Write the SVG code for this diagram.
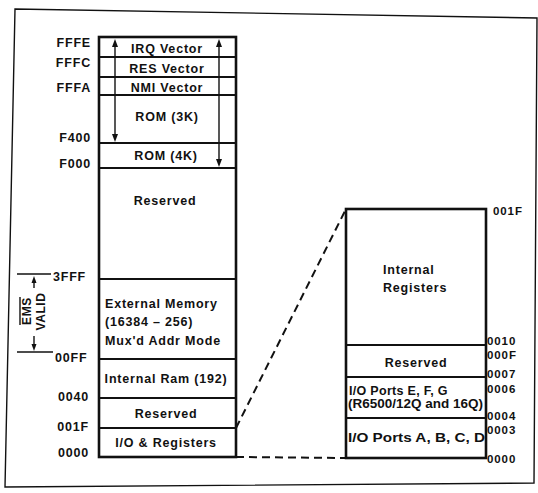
<svg xmlns="http://www.w3.org/2000/svg" width="538" height="493" viewBox="0 0 538 493">
<style>
text{font-family:"Liberation Sans",Arial,Helvetica,sans-serif;font-weight:bold;font-size:12.5px;letter-spacing:0.8px;fill:#111}
.c{text-anchor:middle}
.e{text-anchor:end}
.r{font-size:11.5px;letter-spacing:0.9px}
.box{fill:none;stroke:#111;stroke-width:2.6}
.div{stroke:#111;stroke-width:1.8}
.thin{stroke:#111;stroke-width:1.4;fill:none}
.dash{stroke:#111;stroke-width:2;fill:none;stroke-dasharray:8 5}
.ah{fill:#111}
</style>
<rect width="538" height="493" fill="#fff"/>
<polygon points="15,9 537,18 534,483 5,487" fill="none" stroke="#111" stroke-width="1.4"/>

<g id="memory-map">
  <rect class="box" x="99" y="37" width="137" height="420"/>
  <g id="irq-vector"><line class="div" x1="99" y1="57" x2="236" y2="57"/><text class="c" x="167" y="53">IRQ Vector</text></g>
  <g id="res-vector"><line class="div" x1="99" y1="77" x2="236" y2="77"/><text class="c" x="167" y="73">RES Vector</text></g>
  <g id="nmi-vector"><line class="div" x1="99" y1="95" x2="236" y2="95"/><text class="c" x="167" y="92">NMI Vector</text></g>
  <g id="rom-3k"><line class="div" x1="99" y1="143" x2="236" y2="143"/><text class="c" x="167" y="121">ROM (3K)</text></g>
  <g id="rom-4k"><line class="div" x1="99" y1="168" x2="236" y2="168"/><text class="c" x="166" y="160">ROM (4K)</text></g>
  <g id="reserved-high"><line class="div" x1="99" y1="279" x2="236" y2="279"/><text class="c" x="165" y="205">Reserved</text></g>
  <g id="external-memory"><line class="div" x1="99" y1="359" x2="236" y2="359"/>
    <text x="105" y="308">External Memory</text>
    <text x="105" y="326">(16384 – 256)</text>
    <text x="105" y="345">Mux'd Addr Mode</text></g>
  <g id="internal-ram"><line class="div" x1="99" y1="398" x2="236" y2="398"/><text class="c" x="166" y="383">Internal Ram (192)</text></g>
  <g id="reserved-low"><line class="div" x1="99" y1="428" x2="236" y2="428"/><text class="c" x="166" y="418">Reserved</text></g>
  <g id="io-registers"><text class="c" x="166" y="447">I/O &amp; Registers</text></g>
  <g id="range-arrows">
    <line class="thin" x1="115" y1="44" x2="115" y2="136"/>
    <polygon class="ah" points="115,39 112,47 118,47"/>
    <polygon class="ah" points="115,142 112,134 118,134"/>
    <line class="thin" x1="219" y1="44" x2="219" y2="161"/>
    <polygon class="ah" points="219,39 216,47 222,47"/>
    <polygon class="ah" points="219,167 216,159 222,159"/>
  </g>
</g>

<g id="address-labels-left">
  <text class="e" x="91" y="47">FFFE</text>
  <text class="e" x="91" y="67">FFFC</text>
  <text class="e" x="91" y="92">FFFA</text>
  <text class="e" x="91" y="142">F400</text>
  <text class="e" x="91" y="168">F000</text>
  <text x="53" y="281">3FFF</text>
  <text x="55" y="362">00FF</text>
  <text class="e" x="89" y="401">0040</text>
  <text class="e" x="89" y="431">001F</text>
  <text class="e" x="89" y="457">0000</text>
</g>

<g id="ems-valid">
  <line class="thin" x1="17" y1="274" x2="51" y2="274"/>
  <line class="thin" x1="17" y1="352" x2="53" y2="352"/>
  <line class="thin" x1="34" y1="281" x2="34" y2="288"/>
  <polygon class="ah" points="34,276 31.5,283 36.5,283"/>
  <line class="thin" x1="34" y1="336" x2="34" y2="345"/>
  <polygon class="ah" points="34,351 31.5,344 36.5,344"/>
  <text class="c" transform="translate(31,311) rotate(-90)" style="font-size:12px;letter-spacing:0.6px">EMS</text>
  <line class="thin" x1="20" y1="297" x2="20" y2="325"/>
  <text class="c" transform="translate(45,311.5) rotate(-90)" style="font-size:12px;letter-spacing:0.6px">VALID</text>
</g>

<g id="register-map">
  <rect class="box" x="346" y="209" width="140" height="249"/>
  <g id="internal-registers"><line class="div" x1="346" y1="345" x2="486" y2="345"/>
    <text x="383" y="274">Internal</text>
    <text x="383" y="292">Registers</text></g>
  <g id="reserved-reg"><line class="div" x1="346" y1="377" x2="486" y2="377"/><text class="c" x="416" y="367">Reserved</text></g>
  <g id="io-ports-efg"><line class="div" x1="346" y1="418" x2="486" y2="418"/>
    <text x="349" y="395" style="letter-spacing:0.3px">I/O Ports E, F, G</text>
    <text x="348" y="408" textLength="135" lengthAdjust="spacingAndGlyphs" style="letter-spacing:0">(R6500/12Q and 16Q)</text></g>
  <g id="io-ports-abcd"><text x="348" y="442" textLength="137" lengthAdjust="spacingAndGlyphs" style="letter-spacing:0">I/O Ports A, B, C, D</text></g>
</g>

<g id="address-labels-right">
  <text class="r" x="493" y="215">001F</text>
  <text class="r" x="487" y="345">0010</text>
  <text class="r" x="487" y="358.5">000F</text>
  <text class="r" x="487" y="378">0007</text>
  <text class="r" x="487" y="393">0006</text>
  <text class="r" x="487" y="420">0004</text>
  <text class="r" x="487" y="433.5">0003</text>
  <text class="r" x="487" y="463">0000</text>
</g>

<g id="connectors">
  <line class="dash" x1="236" y1="428" x2="346" y2="209"/>
  <line class="dash" x1="236" y1="457" x2="346" y2="458"/>
</g>
</svg>
